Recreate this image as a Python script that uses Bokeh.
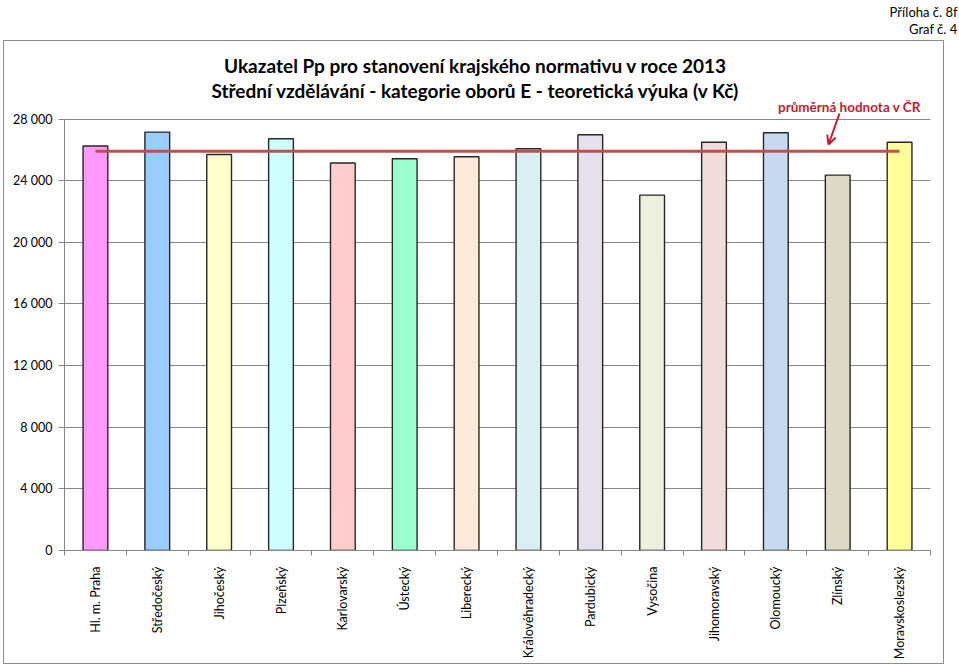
from bokeh.plotting import figure
from bokeh.models import Range1d, FixedTicker, Label, Arrow, OpenHead, ColumnDataSource
from bokeh.layouts import column
from bokeh.embed import file_html
from bokeh.resources import INLINE
import math

# ---- data ----
regions = ["Hl. m. Praha", "Středočeský", "Jihočeský", "Plzeňský", "Karlovarský",
           "Ústecký", "Liberecký", "Královéhradecký", "Pardubický", "Vysočina",
           "Jihomoravský", "Olomoucký", "Zlínský", "Moravskoslezský"]
values = [26250, 27150, 25700, 26720, 25140, 25420, 25550, 26070, 26980, 23060,
          26490, 27110, 24360, 26490]
average_cr = 25900
bar_colors = ["#FF99FF", "#99CCFF", "#FFFFCC", "#CCFFFF", "#FFCCCC", "#99FFCC",
              "#FDE9D9", "#DAEEF3", "#E5E0EC", "#EBF1DE", "#F2DCDB", "#C6D9F1",
              "#DDD9C4", "#FFFF99"]
y_ticks = [0, 4000, 8000, 12000, 16000, 20000, 24000, 28000]
y_tick_labels = ["0", "4 000", "8 000", "12 000", "16 000", "20 000", "24 000", "28 000"]
title_lines = ["Ukazatel Pp pro stanovení krajského normativu v roce 2013",
               "Střední vzdělávání - kategorie oborů E - teoretická výuka (v Kč)"]
avg_label = "průměrná hodnota v ČR"
corner_lines = ["Příloha č. 8f", "Graf č. 4"]

FONT = "Lato"
RED = "#BF1E2D"

# ---- header strip (outside the chart border) ----
HEAD_W, HEAD_H = 959, 40
head = figure(width=HEAD_W, height=HEAD_H, output_backend="svg", toolbar_location=None,
              x_range=Range1d(0, HEAD_W), y_range=Range1d(0, HEAD_H),
              x_axis_location=None, y_axis_location=None, min_border=0)
head.outline_line_color = None
head.grid.grid_line_color = None
if "frame_align" in head.properties():
    head.frame_align = False
for i, t in enumerate(corner_lines):
    head.add_layout(Label(x=957, y=11 + 17 * i, x_units="canvas", y_units="canvas",
                          text=t, text_align="right", text_baseline="alphabetic",
                          text_font=FONT, text_font_size="13px", text_color="#000000"))

# ---- main chart (inside a 1px grey border) ----
W, H = 941, 624
FR_TOP, PLOT_TOP, PLOT_BOT = 2, 77.5, 509   # canvas px: frame top, 28000 line, 0 line
y_max = y_ticks[-1] * (PLOT_BOT - FR_TOP) / (PLOT_BOT - PLOT_TOP)

idx = list(range(len(regions)))
src = ColumnDataSource(dict(x=idx, top=values, color=bar_colors, name=regions))

p = figure(width=W, height=H, output_backend="svg", toolbar_location=None,
           x_range=Range1d(-0.5, len(regions) - 0.5), y_range=Range1d(0, y_max),
           min_border_left=60, min_border_right=15, min_border_top=FR_TOP,
           min_border_bottom=H - PLOT_BOT,
           styles={"border": "1px solid #8C8C8C", "margin-left": "3px"})
p.outline_line_color = None
if "frame_align" in p.properties():
    p.frame_align = False

p.vbar(x="x", top="top", width=0.4, bottom=0, fill_color="color",
       line_color="#262626", line_width=1.4, source=src)

p.line(x=[idx[0], idx[-1]], y=[average_cr, average_cr], line_color="#C0504D",
       line_width=3)

# y axis
p.yaxis.ticker = FixedTicker(ticks=y_ticks, minor_ticks=[])
p.yaxis.bounds = (y_ticks[0], y_ticks[-1])
p.yaxis.major_label_overrides = {t: l for t, l in zip(y_ticks, y_tick_labels)}
p.yaxis.axis_line_color = "#868686"
p.yaxis.major_tick_line_color = "#868686"
p.yaxis.major_tick_out = 6
p.yaxis.major_tick_in = 0
p.yaxis.major_label_standoff = 6
p.yaxis.major_label_text_font = FONT
p.yaxis.major_label_text_font_size = "12.5px"
p.yaxis.major_label_text_color = "#000000"

# x axis
p.xaxis.ticker = FixedTicker(ticks=idx, minor_ticks=[i - 0.5 for i in idx] + [idx[-1] + 0.5])
p.xaxis.major_label_overrides = {i: r for i, r in zip(idx, regions)}
p.xaxis.major_label_orientation = math.pi / 2
p.xaxis.axis_line_color = "#868686"
p.xaxis.major_tick_line_color = None
p.xaxis.minor_tick_line_color = "#868686"
p.xaxis.minor_tick_out = 5
p.xaxis.minor_tick_in = 0
p.xaxis.major_label_standoff = 10
p.xaxis.major_label_text_font = FONT
p.xaxis.major_label_text_font_size = "12.5px"
p.xaxis.major_label_text_color = "#000000"

p.xgrid.grid_line_color = None
p.ygrid.grid_line_color = "#868686"
p.ygrid.grid_line_width = 1

# title lines
for i, t in enumerate(title_lines):
    p.add_layout(Label(x=470, y=23 + 25 * i, x_units="canvas", y_units="canvas",
                       text=t, text_align="center", text_baseline="alphabetic",
                       text_font=FONT, text_font_style="bold",
                       text_font_size="19px", text_color="#000000"))

# average annotation
p.add_layout(Label(x=844, y=64, x_units="canvas", y_units="canvas", text=avg_label,
                   text_align="center", text_baseline="alphabetic", text_font=FONT,
                   text_font_style="bold", text_font_size="13.5px", text_color=RED))
p.add_layout(Arrow(end=OpenHead(size=9, line_color=RED, line_width=2),
                   x_start=835, y_start=72, x_end=824, y_end=103,
                   start_units="canvas", end_units="canvas",
                   line_color=RED, line_width=2))

layout = column(head, p, spacing=0)
open("out.html", "w").write(file_html(layout, INLINE))
